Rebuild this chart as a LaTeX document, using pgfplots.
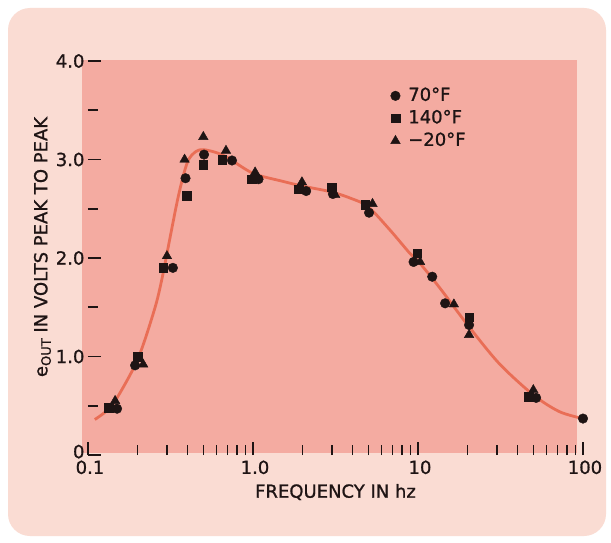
\documentclass[border=0pt]{standalone}
\usepackage{pgfplots}
\pgfplotsset{compat=1.18}
\usepackage{fontspec}
\setmainfont{DejaVu Sans}[FakeBold=1]
\definecolor{framepink}{HTML}{FADCD3}
\definecolor{salmon}{HTML}{F4ABA1}
\definecolor{curvecol}{HTML}{E8644A}
\definecolor{ink}{HTML}{1E1414}
\begin{document}
\begin{tikzpicture}
\useasboundingbox (0pt,0pt) rectangle (611pt,542pt);
\fill[white] (0pt,0pt) rectangle (611pt,542pt);
\fill[framepink, rounded corners=22pt] (8pt,6pt) rectangle (606pt,534pt);
\fill[salmon] (82pt,89pt) rectangle (577pt,482pt);
\begin{axis}[
  at={(88pt,87pt)}, anchor=south west,
  scale only axis, width=495pt, height=394pt,
  xmode=log, xmin=0.1, xmax=100, ymin=0, ymax=4,
  axis line style={draw=none},
  tick align=inside,
  xtick pos=bottom, ytick pos=left,
  xtick={0.1,1,10,100}, xticklabels={0.1,1.0,10,100},
  minor xtick={0.2,0.3,0.4,0.5,0.6,0.7,0.8,0.9,2,3,4,5,6,7,8,9,20,30,40,50,60,70,80,90},
  ytick={0,1,2,3,4}, yticklabels={\raisebox{7pt}{0},1.0,2.0,3.0,4.0},
  minor ytick={0.5,1.5,2.5,3.5},
  major tick length=13pt, minor tick length=10pt,
  every tick/.style={ink, line width=1.6pt},
  /pgf/number format/assume math mode=true,
  tick label style={font=\fontsize{18}{20}\selectfont, text=ink},
  xticklabel style={yshift=-2pt, xshift=2pt},
  label style={font=\fontsize{18}{20}\selectfont, text=ink},
  xlabel={FREQUENCY IN hz},
  ylabel={e\raisebox{-0.35ex}{\fontsize{13}{14}\selectfont OUT} IN VOLTS PEAK TO PEAK},
  xlabel style={yshift=-3pt},
  ylabel style={at={(ticklabel cs:0.528)}, yshift=-2pt},
  legend style={at={(0.605,0.94)}, anchor=north west, draw=none, fill=none,
    font=\fontsize{18}{20}\selectfont, text=ink,
    nodes={inner sep=1pt, text height=13pt, text depth=3pt}, row sep=4.5pt},
  legend cell align=left,
  legend image code/.code={\draw[mark repeat=2,mark phase=2,#1] plot coordinates {(0cm,0cm) (0.35cm,0cm) (0.7cm,0cm)};},
  clip=false,
]
\addplot[curvecol, line width=2.8pt, opacity=0.85, smooth, tension=0.5, forget plot] coordinates {
(0.11,0.36) (0.13,0.45) (0.15,0.58) (0.2,0.97) (0.25,1.45) (0.28,1.78) (0.35,2.6) (0.4,2.97) (0.45,3.08) (0.5,3.1) (0.6,3.07) (0.7,3.02) (1,2.86) (1.5,2.78) (2,2.73) (3,2.67) (4,2.6) (5,2.52) (6.8,2.28) (8.9,2.05) (10,1.97) (13.5,1.7) (20,1.32) (31,0.93) (50,0.61) (72,0.44) (100,0.37)
};
\addplot[only marks, mark=*, mark size=4.8pt, ink, mark options={fill=ink, draw=ink}] coordinates {
(0.15,0.47) (0.193,0.91) (0.327,1.90) (0.39,2.81) (0.505,3.05) (0.746,2.99) (1.08,2.80) (2.1,2.68) (3.05,2.65) (5.05,2.46) (9.4,1.96) (12.2,1.81) (14.6,1.54) (20.4,1.32) (52,0.58) (100,0.37)
};
\addlegendentry{\hspace{7pt}70°F}
\addplot[only marks, mark=square*, mark size=4.3pt, ink, mark options={fill=ink, draw=ink}] coordinates {
(0.134,0.48) (0.2,1.0) (0.285,1.90) (0.395,2.63) (0.5,2.95) (0.65,3.0) (0.98,2.80) (1.9,2.70) (3.0,2.72) (4.8,2.54) (9.9,2.05) (20.4,1.40) (47,0.59)
};
\addlegendentry{\hspace{7pt}140°F}
\addplot[only marks, mark=triangle*, mark size=5.5pt, ink, mark options={fill=ink, draw=ink}] coordinates {
(0.146,0.55) (0.216,0.92) (0.301,2.02) (0.385,3.0) (0.5,3.23) (0.686,3.09) (1.03,2.87) (1.98,2.77) (3.15,2.64) (5.3,2.55) (10.3,1.96) (16.5,1.53) (20.4,1.22) (50,0.66)
};
\addlegendentry{\hspace{7pt}−20°F}
\end{axis}
\end{tikzpicture}
\end{document}
